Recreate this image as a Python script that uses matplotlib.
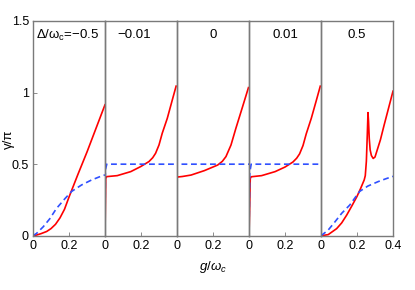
import numpy as np
import matplotlib
matplotlib.use("Agg")
import matplotlib.pyplot as plt

plt.rcParams['font.family'] = ['Liberation Sans', 'DejaVu Sans']
plt.rcParams['mathtext.fontset'] = 'custom'
plt.rcParams['mathtext.rm'] = 'Liberation Sans'
plt.rcParams['mathtext.it'] = 'Liberation Sans:italic'

# panel labels (detuning Delta/omega_c)
labels = ['Δ/ω$_\\mathregular{c}$=−0.5', '−0.01', '0', '0.01', '0.5']
label_x = [0.015, 0.16, 0.2, 0.2, 0.2]
label_ha = ['left', 'center', 'center', 'center', 'center']

# red solid curves
red_g = [
    [0, 0.02, 0.045, 0.076, 0.1, 0.125, 0.15, 0.175, 0.2, 0.225, 0.25,
     0.3, 0.35, 0.4],
    [0, 0.004, 0.009, 0.068, 0.143, 0.198, 0.244, 0.265, 0.281, 0.3, 0.318,
     0.346, 0.374, 0.395],
    [0, 0.0005, 0.03, 0.078, 0.152, 0.226, 0.252, 0.272, 0.3, 0.327, 0.364,
     0.397],
    [0, 0.007, 0.012, 0.07, 0.145, 0.2, 0.244, 0.265, 0.281, 0.3, 0.318,
     0.346, 0.374, 0.396],
    [0, 0.04, 0.087, 0.115, 0.143, 0.172, 0.2, 0.22, 0.24, 0.246, 0.252, 0.257,
     0.261, 0.264, 0.268, 0.273, 0.28, 0.29, 0.30, 0.31, 0.33, 0.35, 0.375, 0.4],
]
red_v = [
    [0, 0.005, 0.015, 0.03, 0.05, 0.08, 0.125, 0.185, 0.27, 0.35, 0.43,
     0.585, 0.75, 0.915],
    [0, 0.40, 0.413, 0.42, 0.448, 0.483, 0.518, 0.545, 0.576, 0.634, 0.716,
     0.82, 0.949, 1.045],
    [0, 0.41, 0.414, 0.424, 0.455, 0.494, 0.52, 0.553, 0.634, 0.75, 0.90,
     1.035],
    [0, 0.40, 0.412, 0.42, 0.448, 0.48, 0.515, 0.542, 0.572, 0.63, 0.712,
     0.82, 0.945, 1.045],
    [0, 0.008, 0.05, 0.09, 0.145, 0.21, 0.275, 0.33, 0.39, 0.42, 0.52, 0.70,
     0.86, 0.80, 0.68, 0.60, 0.56, 0.54, 0.55, 0.59, 0.67, 0.77, 0.89, 1.01],
]

# blue dashed curves
blue_g = [
    [0, 0.02, 0.057, 0.094, 0.13, 0.178, 0.215, 0.27, 0.326, 0.38, 0.4],
    [0, 0.002, 0.01, 0.4],
    [0, 0.0005, 0.4],
    [0, 0.004, 0.012, 0.4],
    [0, 0.04, 0.078, 0.115, 0.16, 0.2, 0.215, 0.26, 0.317, 0.36, 0.4],
]
blue_v = [
    [0, 0.017, 0.063, 0.12, 0.19, 0.26, 0.31, 0.355, 0.39, 0.417, 0.425],
    [0, 0.46, 0.5, 0.5],
    [0, 0.5, 0.5],
    [0, 0.44, 0.5, 0.5],
    [0, 0.04, 0.098, 0.157, 0.215, 0.285, 0.31, 0.347, 0.378, 0.398, 0.415],
]

fig = plt.figure(figsize=(4.15, 2.9), dpi=100)
left, right, bottom, top = 0.0795, 0.947, 0.187, 0.9276
w = (right - left) / 5

frame = '#7a7a7a'
for i in range(5):
    ax = fig.add_axes([left + i * w, bottom, w, top - bottom])
    ax.plot(red_g[i], red_v[i], color='#ff0000', lw=1.2, zorder=3)
    ax.plot(blue_g[i], blue_v[i], color='#3050ff', lw=1.2, ls='--',
            dashes=(3.5, 2.2), zorder=3)
    ax.set_xlim(0, 0.4)
    ax.set_ylim(0, 1.5)
    ax.text(label_x[i], 1.4, labels[i], ha=label_ha[i], va='center', fontsize=9.5)
    ax.set_xticks([0, 0.2, 0.4])
    if i < 4:
        ax.set_xticklabels(['0', '0.2', ''])
    else:
        ax.set_xticklabels(['0', '0.2', '0.4'])
    if i == 0:
        ax.set_yticks([0, 0.5, 1, 1.5])
        ax.set_yticklabels(['0', '0.5', '1', '1.5'])
    else:
        ax.set_yticks([])
    ax.tick_params(direction='in', length=3, width=0.6, color=frame,
                   labelsize=9, pad=3)
    for s in ax.spines.values():
        s.set_color(frame)
        s.set_linewidth(1.0)
        s.set_zorder(4)
    ax.patch.set_alpha(0)

fig.text(left + 2.5 * w, 0.08, r'$g/\omega_c$', ha='center', va='center',
         fontsize=9.5)
fig.text(0.022, 0.52, 'γ/π', rotation=90, ha='center', va='center', fontsize=9.5)

fig.savefig('out.png', dpi=100)
